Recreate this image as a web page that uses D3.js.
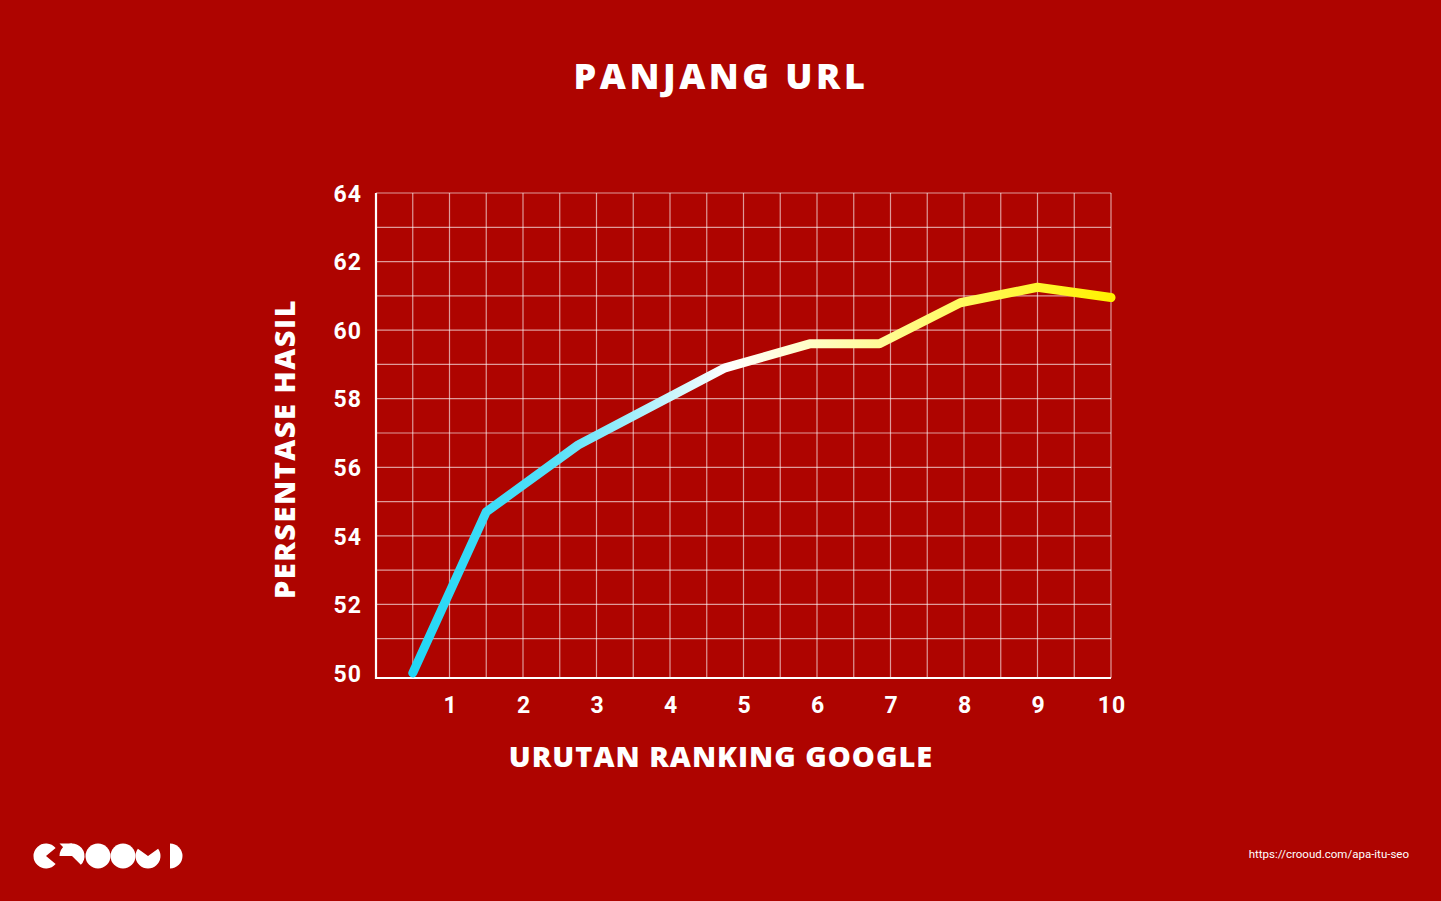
<!DOCTYPE html>
<html><head><meta charset="utf-8">
<script src="https://cdn.jsdelivr.net/npm/d3@7"></script>
<style>
html,body{margin:0;padding:0;background:#ae0400;}
svg{display:block;}
</style></head>
<body>
<script>
// ---- data ----
const title = "PANJANG URL";
const xTitle = "URUTAN RANKING GOOGLE";
const yTitle = "PERSENTASE HASIL";
const rankX = [0.5, 1.5, 2.75, 4.75, 5.9, 6.85, 7.95, 9.0, 10.0];
const persen = [50.0, 54.7, 56.65, 58.9, 59.6, 59.6, 60.8, 61.25, 60.95];
const xTicks = [1,2,3,4,5,6,7,8,9,10];
const yTicks = [50,52,54,56,58,60,62,64];
const sourceText = "https://crooud.com/apa-itu-seo";

const W = 1441, H = 901;
const svg = d3.select("body").append("svg").attr("width", W).attr("height", H);
svg.append("rect").attr("width", W).attr("height", H).attr("fill", "#ae0400");

const x = d3.scaleLinear().domain([0,10]).range([376,1111]);
const y = d3.scaleLinear().domain([50,64]).range([673,193]);

const font = "'Open Sans', Lato, sans-serif";

// grid
const g = svg.append("g");
g.selectAll("line.h").data(d3.range(51,65)).join("line")
  .attr("x1", x(0)).attr("x2", x(10)).attr("y1", d=>y(d)).attr("y2", d=>y(d))
  .attr("stroke","rgba(255,255,255,0.6)").attr("stroke-width",1.2);
g.selectAll("line.v").data(d3.range(0.5,10.01,0.5)).join("line")
  .attr("x1", d=>x(d)).attr("x2", d=>x(d)).attr("y1", y(64)).attr("y2", 678)
  .attr("stroke","rgba(255,255,255,0.6)").attr("stroke-width",1.2);
// axes
g.append("line").attr("x1",x(0)).attr("x2",x(0)).attr("y1",y(64)).attr("y2",679)
  .attr("stroke","#fff").attr("stroke-width",2.2);
g.append("line").attr("x1",x(0)-1).attr("x2",x(10)).attr("y1",678).attr("y2",678)
  .attr("stroke","#fff").attr("stroke-width",2.2);

// tick labels
svg.selectAll("text.yt").data(yTicks).join("text")
  .attr("x", 362).attr("y", d=>y(d)+0.5).attr("dy","0.36em")
  .attr("text-anchor","end").attr("fill","#fff")
  .attr("font-family","Roboto, sans-serif").attr("font-weight",700).attr("font-size",23)
  .attr("letter-spacing",1)
  .text(d=>d);
svg.selectAll("text.xt").data(xTicks).join("text")
  .attr("x", d=>x(d)+1).attr("y", 705).attr("dy","0.36em")
  .attr("text-anchor","middle").attr("fill","#fff")
  .attr("font-family","Roboto, sans-serif").attr("font-weight",700).attr("font-size",23)
  .attr("letter-spacing",1)
  .text(d=>d);

// titles
svg.append("text").attr("x",721).attr("y",76).attr("dy","0.36em")
  .attr("text-anchor","middle").attr("fill","#fff")
  .attr("font-family",font).attr("font-weight",800).attr("font-size",36)
  .attr("letter-spacing",3.5)
  .text(title);
svg.append("text").attr("x",721).attr("y",757).attr("dy","0.36em")
  .attr("text-anchor","middle").attr("fill","#fff")
  .attr("font-family",font).attr("font-weight",800).attr("font-size",29)
  .attr("letter-spacing",1)
  .text(xTitle);
svg.append("text").attr("transform","translate(285,449) rotate(-90)").attr("dy","0.36em")
  .attr("text-anchor","middle").attr("fill","#fff")
  .attr("font-family",font).attr("font-weight",800).attr("font-size",29)
  .attr("letter-spacing",1.5)
  .text(yTitle);

// gradient line
const defs = svg.append("defs");
const grad = defs.append("linearGradient").attr("id","lg").attr("gradientUnits","userSpaceOnUse")
  .attr("x1", x(0.5)).attr("x2", x(10)).attr("y1",0).attr("y2",0);
grad.append("stop").attr("offset","0%").attr("stop-color","#22d6f5");
grad.append("stop").attr("offset","20%").attr("stop-color","#55e0f8");
grad.append("stop").attr("offset","45%").attr("stop-color","#ffffff");
grad.append("stop").attr("offset","75%").attr("stop-color","#fffa70");
grad.append("stop").attr("offset","100%").attr("stop-color","#fff200");

const pts = rankX.map((r,i)=>[r, persen[i]]);
svg.append("path").datum(pts)
  .attr("d", d3.line().x(d=>x(d[0])).y(d=>y(d[1])))
  .attr("fill","none").attr("stroke","url(#lg)").attr("stroke-width",9)
  .attr("stroke-linecap","round").attr("stroke-linejoin","round");

// source
svg.append("text").attr("x",1409).attr("y",854).attr("dy","0.36em")
  .attr("text-anchor","end").attr("fill","#fff")
  .attr("font-family","Roboto, sans-serif").attr("font-size",11.5)
  .text(sourceText);

// logo
const logo = svg.append("g").attr("fill","#fff");
const arc = d3.arc();
const cy = 856, r = 12.5;
// C pacman
logo.append("path").attr("transform",`translate(46,${cy})`)
  .attr("d", arc({innerRadius:0, outerRadius:r, startAngle:Math.PI*0.72, endAngle:Math.PI*2.28}));
// r shape
logo.append("path").attr("transform",`translate(72,${cy})`)
  .attr("d", arc({innerRadius:0, outerRadius:r, startAngle:-Math.PI/2, endAngle:Math.PI*0.75}));
logo.append("path").attr("transform",`translate(72,${cy})`)
  .attr("d", `M${-r},${-r}L0,${-r}L0,0Z`);
// O O
logo.append("circle").attr("cx",98).attr("cy",cy).attr("r",r);
logo.append("circle").attr("cx",123).attr("cy",cy).attr("r",r);
// U
logo.append("path").attr("transform",`translate(148,${cy})`)
  .attr("d", arc({innerRadius:0, outerRadius:r, startAngle:Math.PI*0.3, endAngle:Math.PI*1.7}));
// D
logo.append("path").attr("transform",`translate(170,${cy})`)
  .attr("d", arc({innerRadius:0, outerRadius:r, startAngle:0, endAngle:Math.PI}));
</script>
</body></html>
